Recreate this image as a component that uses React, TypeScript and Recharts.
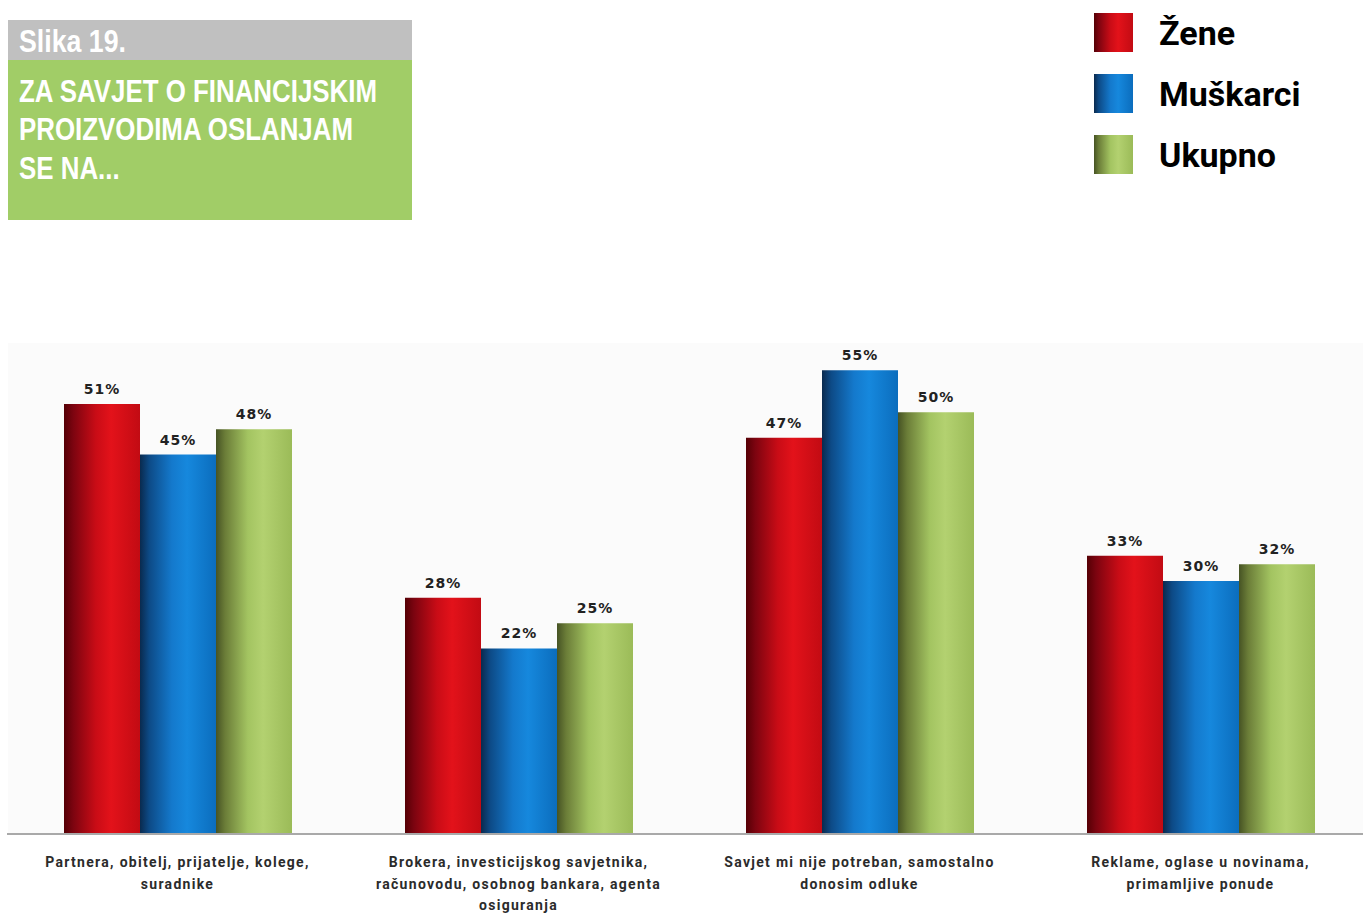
import { BarChart, Bar, XAxis, YAxis, LabelList } from "recharts"

// categories (line breaks as they appear under the axis)
const categories = [
  "Partnera, obitelj, prijatelje, kolege,\nsuradnike",
  "Brokera, investicijskog savjetnika,\nračunovodu, osobnog bankara, agenta\nosiguranja",
  "Savjet mi nije potreban, samostalno\ndonosim odluke",
  "Reklame, oglase u novinama,\nprimamljive ponude",
]

const zene = [51, 28, 47, 33]
const muskarci = [45, 22, 55, 30]
const ukupno = [48, 25, 50, 32]

const seriesNames = ["Žene", "Muškarci", "Ukupno"]

const figureLabel = "Slika 19."
const titleLines = ["ZA SAVJET O FINANCIJSKIM", "PROIZVODIMA OSLANJAM", "SE NA..."]

const data = categories.map((name, i) => ({
  name,
  zene: zene[i],
  muskarci: muskarci[i],
  ukupno: ukupno[i],
}))

// horizontal "cylinder" shading for each series
const gradients: { id: string; key: string; stops: [number, string][] }[] = [
  {
    id: "gRed",
    key: "zene",
    stops: [
      [0, "#550005"],
      [0.12, "#7c0410"],
      [0.42, "#c90c16"],
      [0.62, "#e3121a"],
      [1, "#c20b13"],
    ],
  },
  {
    id: "gBlue",
    key: "muskarci",
    stops: [
      [0, "#0a2a4e"],
      [0.12, "#0d4a86"],
      [0.42, "#1479cc"],
      [0.62, "#1688dd"],
      [1, "#0b6dbd"],
    ],
  },
  {
    id: "gGreen",
    key: "ukupno",
    stops: [
      [0, "#465324"],
      [0.12, "#6b7d38"],
      [0.42, "#a3c461"],
      [0.62, "#b3d170"],
      [1, "#9bbb58"],
    ],
  },
]

const cssGradient = (stops: [number, string][]) =>
  `linear-gradient(to right, ${stops.map(([o, c]) => `${c} ${o * 100}%`).join(", ")})`

function CategoryTick({ x, y, payload }: any) {
  const lines = String(payload.value).split("\n")
  return (
    <text
      x={x}
      y={y}
      textAnchor="middle"
      fill="#2b2b2b"
      fontFamily="Roboto"
      fontWeight={700}
      fontSize={14}
      letterSpacing={1.3}
    >
      {lines.map((l, i) => (
        <tspan key={i} x={x} dy={i === 0 ? 25 : 21.5}>
          {l}
        </tspan>
      ))}
    </text>
  )
}

const labelStyle = {
  fontFamily: "DejaVu Sans",
  fontWeight: 700,
  fontSize: 14,
  fill: "#222",
  letterSpacing: 1,
}

export default function App() {
  return (
    <div style={{ position: "absolute", left: 0, top: 0, width: 1363, height: 913, background: "#fff" }}>
      {/* faint plot tint */}
      <div
        style={{
          position: "absolute",
          left: 8,
          top: 343,
          width: 1355,
          height: 491,
          background: "#fbfbfb",
        }}
      />

      {/* title box */}
      <svg
        width={420}
        height={230}
        style={{ position: "absolute", left: 0, top: 0 }}
      >
        <rect x={8} y={20} width={404} height={40} fill="#c0c0c0" />
        <rect x={8} y={60} width={404} height={160} fill="#a1cd67" />
        <g transform="translate(19,0) scale(0.835,1)">
          <text
            x={0}
            y={52}
            fill="#fff"
            fontFamily="Liberation Sans"
            fontWeight={700}
            fontSize={32}
          >
            {figureLabel}
          </text>
          {titleLines.map((t, i) => (
            <text
              key={t}
              x={0}
              y={102 + i * 38.5}
              fill="#fff"
              fontFamily="Liberation Sans"
              fontWeight={700}
              fontSize={31}
            >
              {t}
            </text>
          ))}
        </g>
      </svg>

      {/* legend */}
      <div style={{ position: "absolute", left: 1094, top: 13 }}>
        {seriesNames.map((n, i) => (
          <div key={n} style={{ position: "absolute", left: 0, top: i * 61, width: 260, height: 40 }}>
            <div
              style={{
                position: "absolute",
                left: 0,
                top: 0,
                width: 39,
                height: 39,
                background: cssGradient(gradients[i].stops),
              }}
            />
            <div
              style={{
                position: "absolute",
                left: 65,
                top: -2,
                fontFamily: "Roboto",
                fontWeight: 700,
                fontSize: 34,
                lineHeight: "44px",
                color: "#000",
                whiteSpace: "nowrap",
              }}
            >
              {n}
            </div>
          </div>
        ))}
      </div>

      {/* chart */}
      <div
        style={{
          position: "absolute",
          left: 7,
          top: 0,
          width: 1356,
          height: 913,
          overflow: "hidden",
        }}
      >
        <BarChart
          width={1364}
          height={913}
          data={data}
          margin={{ top: 328, right: 0, bottom: 0, left: 0 }}
          barSize={76}
          barGap={0}
        >
          <defs>
            {gradients.map((g) => (
              <linearGradient key={g.id} id={g.id} x1="0" y1="0" x2="1" y2="0">
                {g.stops.map(([o, c]) => (
                  <stop key={o} offset={o} stopColor={c} />
                ))}
              </linearGradient>
            ))}
          </defs>
          <YAxis hide domain={[0, 60]} />
          <XAxis
            dataKey="name"
            height={79}
            interval={0}
            axisLine={{ stroke: "#a9a9a9", strokeWidth: 2 }}
            tickLine={false}
            tick={<CategoryTick />}
          />
          {gradients.map((g) => (
            <Bar
              key={g.key}
              dataKey={g.key}
              fill={`url(#${g.id})`}
              isAnimationActive={false}
            >
              <LabelList
                dataKey={g.key}
                position="top"
                offset={10}
                formatter={(v: any) => `${v}%`}
                style={labelStyle}
              />
            </Bar>
          ))}
        </BarChart>
      </div>
    </div>
  )
}
